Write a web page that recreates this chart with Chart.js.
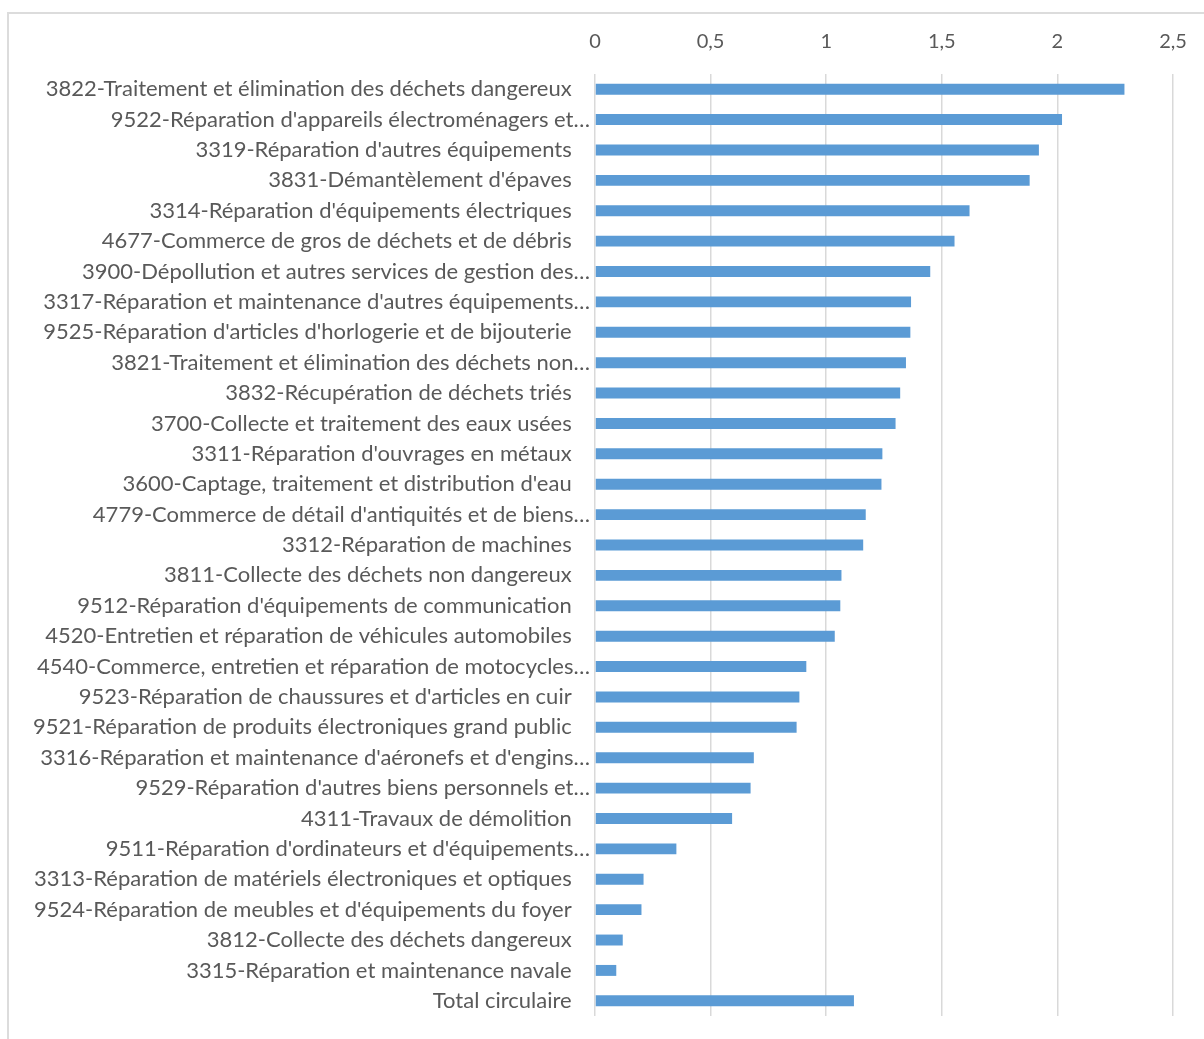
<!DOCTYPE html>
<html lang="fr">
<head>
<meta charset="utf-8">
<title>Secteurs circulaires</title>
<script src="https://cdn.jsdelivr.net/npm/chart.js@4/dist/chart.umd.min.js"></script>
<style>
    html, body { margin: 0; padding: 0; background: #ffffff; overflow: hidden; }
    #frame {
        position: absolute; left: 7px; top: 12px;
        width: 1300px; height: 1100px;
        border: 2px solid #dcdcdc; box-sizing: border-box;
    }
    #wrap { position: absolute; left: 0; top: 0; width: 1204px; height: 1039px; }
</style>
</head>
<body>
<div id="frame"></div>
<div id="wrap"><canvas id="chart"></canvas></div>
<script>
// Sector labels, top to bottom (long ones are clipped with an ellipsis)
const sectors = [
    "3822-Traitement et élimination des déchets dangereux",
    "9522-Réparation d'appareils électroménagers et…",
    "3319-Réparation d'autres équipements",
    "3831-Démantèlement d'épaves",
    "3314-Réparation d'équipements électriques",
    "4677-Commerce de gros de déchets et de débris",
    "3900-Dépollution et autres services de gestion des…",
    "3317-Réparation et maintenance d'autres équipements…",
    "9525-Réparation d'articles d'horlogerie et de bijouterie",
    "3821-Traitement et élimination des déchets non…",
    "3832-Récupération de déchets triés",
    "3700-Collecte et traitement des eaux usées",
    "3311-Réparation d'ouvrages en métaux",
    "3600-Captage, traitement et distribution d'eau",
    "4779-Commerce de détail d'antiquités et de biens…",
    "3312-Réparation de machines",
    "3811-Collecte des déchets non dangereux",
    "9512-Réparation d'équipements de communication",
    "4520-Entretien et réparation de véhicules automobiles",
    "4540-Commerce, entretien et réparation de motocycles…",
    "9523-Réparation de chaussures et d'articles en cuir",
    "9521-Réparation de produits électroniques grand public",
    "3316-Réparation et maintenance d'aéronefs et d'engins…",
    "9529-Réparation d'autres biens personnels et…",
    "4311-Travaux de démolition",
    "9511-Réparation d'ordinateurs et d'équipements…",
    "3313-Réparation de matériels électroniques et optiques",
    "9524-Réparation de meubles et d'équipements du foyer",
    "3812-Collecte des déchets dangereux",
    "3315-Réparation et maintenance navale",
    "Total circulaire"
];

const values = [
    2.29, 2.02, 1.92, 1.88, 1.62, 1.555, 1.45, 1.367, 1.364, 1.345,
    1.32, 1.30, 1.243, 1.239, 1.171, 1.16, 1.066, 1.061, 1.037, 0.914,
    0.884, 0.872, 0.687, 0.673, 0.593, 0.352, 0.21, 0.201, 0.12, 0.092,
    1.12
];

const xTicks = [0, 0.5, 1, 1.5, 2, 2.5];

const textColor = '#595959';
const gridColor = '#d9d9d9';
const barColor = '#5b9bd5';
const fontFamily = 'Lato, "Open Sans", sans-serif';

const ctx = document.getElementById('chart');

new Chart(ctx, {
    type: 'bar',
    data: {
        labels: sectors,
        datasets: [{
            data: values,
            backgroundColor: barColor,
            borderWidth: 0,
            barPercentage: 0.36,
            categoryPercentage: 1
        }]
    },
    options: {
        indexAxis: 'y',
        responsive: true,
        maintainAspectRatio: false,
        animation: false,
        layout: { padding: { top: 10, right: 31, bottom: 23, left: 0 } },
        plugins: {
            legend: { display: false },
            tooltip: { enabled: false }
        },
        scales: {
            x: {
                position: 'top',
                min: xTicks[0],
                max: xTicks[xTicks.length - 1],
                afterBuildTicks: function(scale) {
                    scale.ticks = xTicks.map(v => ({ value: v }));
                },
                // the layout padding already leaves room for the "2,5" label
                afterFit: function(scale) {
                    scale.paddingLeft = 0;
                    scale.paddingRight = 0;
                },
                grid: { color: gridColor, lineWidth: 1.5, drawTicks: false },
                border: { display: false },
                ticks: {
                    color: textColor,
                    padding: 20,
                    font: { family: fontFamily, size: 20 },
                    callback: v => String(v).replace('.', ',')
                }
            },
            y: {
                grid: { display: false },
                border: { display: false },
                afterFit: function(scale) { scale.width = 595; },
                ticks: {
                    color: textColor,
                    padding: -3,
                    autoSkip: false,
                    font: { family: fontFamily, size: 22 },
                    // unclipped names carry a little trailing room, like the source sheet
                    callback: function(v) {
                        const name = this.getLabelForValue(v);
                        return name.endsWith('…') ? name : name + '\u2002\u2004';
                    }
                }
            }
        }
    }
});
</script>
</body>
</html>
